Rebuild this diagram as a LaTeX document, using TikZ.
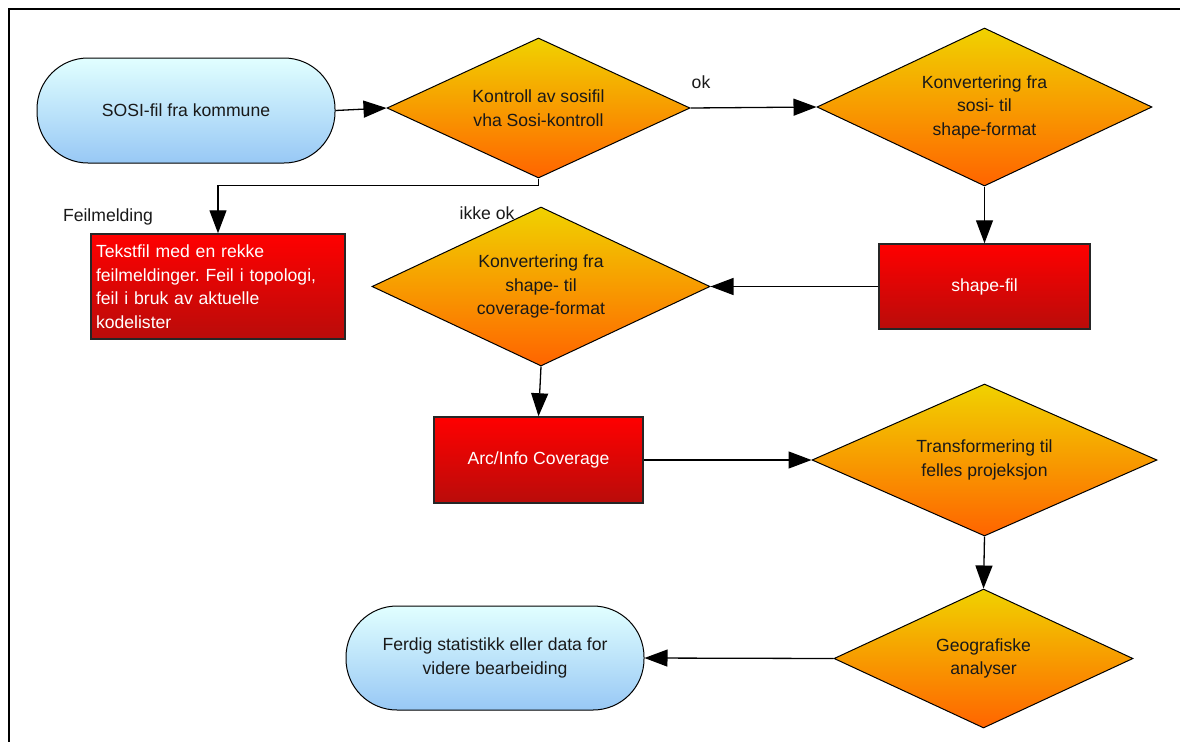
\documentclass[tikz,border=0pt]{standalone}
\usepackage{fontspec}
\setmainfont{Liberation Sans}
\usetikzlibrary{shapes.geometric,arrows.meta}
\definecolor{dtop}{RGB}{240,210,0}
\definecolor{dbot}{RGB}{255,100,0}
\definecolor{rtop}{RGB}{255,0,0}
\definecolor{rbot}{RGB}{185,12,10}
\definecolor{ptop}{RGB}{225,255,255}
\definecolor{pbot}{RGB}{152,200,245}
\definecolor{ink}{RGB}{25,25,25}
\frenchspacing
\begin{document}
\begin{tikzpicture}[x=1pt,y=-1pt,
  font=\fontsize{17.6}{23.5}\selectfont,
  dia/.style={diamond, aspect=2.15, draw=black, line width=1pt, top color=dtop, bottom color=dbot,
    inner sep=0pt, align=center, text=ink},
  box/.style={rectangle, draw=black!85, line width=1.5pt, top color=rtop, bottom color=rbot,
    text=white, align=center},
  pill/.style={rectangle, rounded corners=51pt, draw=black, line width=1pt, top color=ptop,
    bottom color=pbot, align=center, text=ink},
  conn/.style={line width=1.3pt, -{Triangle[length=23pt,width=17pt]}},
  lbl/.style={inner sep=0pt, text=ink}]
\useasboundingbox (0,0) rectangle (1180,742);
\draw[line width=2.2pt] (1180,9) -- (9,9) -- (9,742);

\node[pill, minimum width=298pt, minimum height=105pt] (sosi) at (186,110.5) {SOSI-fil fra kommune};
\node[dia, minimum width=303pt, minimum height=140pt] (d1) at (538.5,108) {Kontroll av sosifil\\vha Sosi-kontroll};
\node[dia, minimum width=335pt, minimum height=158pt] (d2) at (984.5,107) {Konvertering fra\\sosi- til\\shape-format};
\node[box, minimum width=211pt, minimum height=85pt] (shape) at (984.5,286.5) {shape-fil};
\node[dia, minimum width=338pt, minimum height=159pt] (d3) at (541,286.5) {Konvertering fra\\shape- til\\coverage-format};
\node[box, minimum width=209pt, minimum height=86pt] (arc) at (538.5,460) {Arc/Info Coverage};
\node[dia, minimum width=345pt, minimum height=152pt] (d4) at (984.5,460) {Transformering til\\felles projeksjon};
\node[dia, minimum width=299pt, minimum height=139pt] (d5) at (983.5,658.5) {Geografiske\\analyser};
\node[pill, minimum width=298pt, minimum height=104pt] (ferdig) at (495,658) {Ferdig statistikk eller data for\\videre bearbeiding};
\node[box, minimum width=254pt, minimum height=105pt, text width=244pt, inner xsep=5pt, align=left] (tekst) at (218,286.5)
  {Tekstfil med en rekke\\feilmeldinger. Feil i topologi,\\feil i bruk av aktuelle\\kodelister};

\node[lbl] (ok) at (701,82) {ok};
\node[lbl] (ikkeok) at (487,213) {ikke ok};
\node[lbl] (feil) at (108,217) {Feilmelding};

\draw[conn] (sosi.east) -- (d1.west);
\draw[conn] (d1.east) -- (d2.west);
\draw[conn] (d2.south) -- (shape.north);
\draw[conn] (shape.west) -- (d3.east);
\draw[conn] (d3.south) -- (arc.north);
\draw[conn] (arc.east) -- (d4.west);
\draw[conn] (d4.south) -- (d5.north);
\draw[conn] (d5.west) -- (ferdig.east);
\draw[conn] (d1.south) -- ++(0,7) -| (tekst.north);
\end{tikzpicture}
\end{document}
